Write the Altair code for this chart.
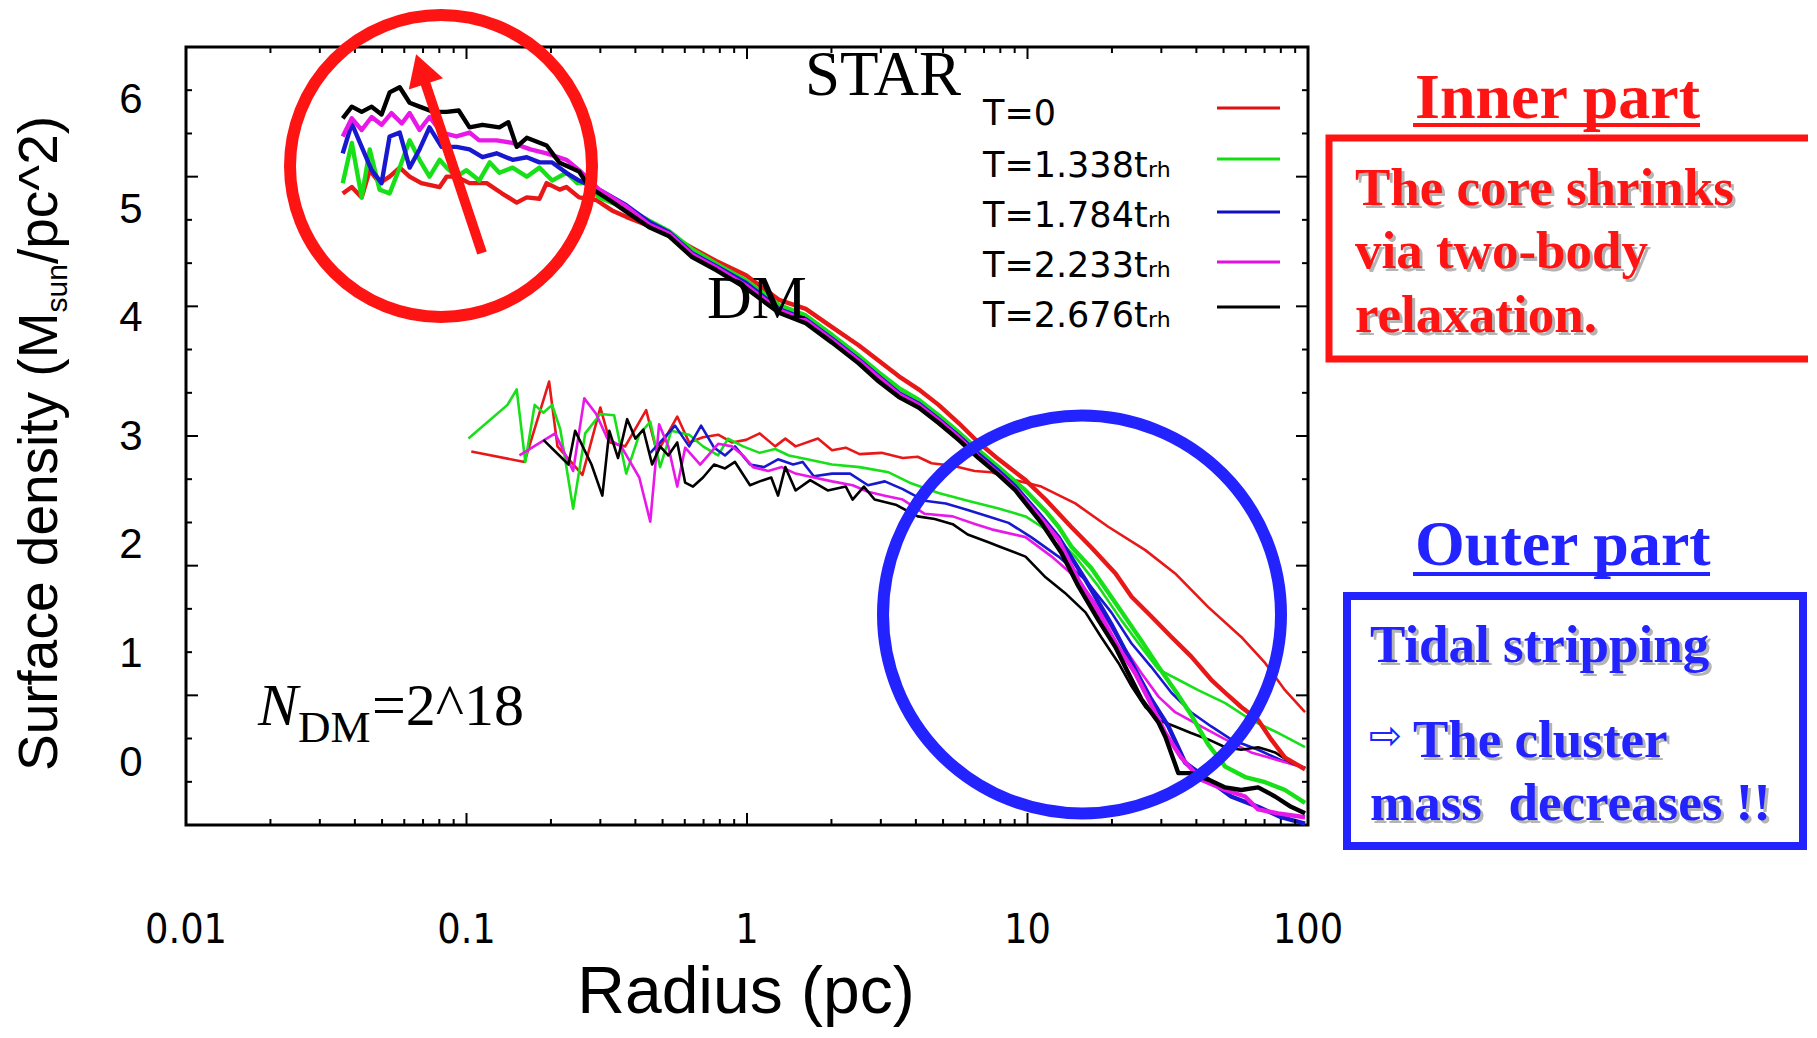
import altair as alt
import pandas as pd

# ---------------- data ----------------
SERIES = ["T=0", "T=1.338trh", "T=1.784trh", "T=2.233trh", "T=2.676trh"]
LINE_COLORS = ["#e81818", "#18e018", "#1818d0", "#e818e8", "#000000"]

# upper profiles (thick lines)
up_red_r = [0.0362, 0.039, 0.0423, 0.0452, 0.049, 0.0532, 0.0578, 0.0627, 0.069, 0.0802, 0.0849, 0.0921, 0.1025, 0.118, 0.134, 0.151, 0.164, 0.182, 0.193, 0.215, 0.227, 0.252, 0.29, 0.33, 0.371, 0.448, 0.528, 0.637, 0.776, 0.992, 1.3, 1.62, 2.01, 2.5, 2.95, 3.48, 4.09, 4.82, 5.68, 6.69, 7.89, 9.84, 11.6, 14.3, 16.9, 20.6, 23.5, 27.6, 32.6, 38.3, 45.2, 50.7, 57.8, 66.4, 73.9, 82.8, 97.6]
up_red_v = [4.87, 4.92, 4.84, 5.05, 4.95, 5.0, 5.07, 5.0, 4.95, 4.92, 5.0, 5.0, 4.95, 4.95, 4.87, 4.8, 4.84, 4.83, 4.95, 4.9, 4.92, 4.84, 4.82, 4.74, 4.69, 4.62, 4.55, 4.45, 4.35, 4.24, 4.05, 3.98, 3.84, 3.7, 3.58, 3.46, 3.36, 3.24, 3.1, 2.95, 2.82, 2.66, 2.51, 2.3, 2.14, 1.94, 1.76, 1.61, 1.45, 1.3, 1.12, 1.02, 0.91, 0.81, 0.66, 0.52, 0.43]

up_green_r = [0.0362, 0.039, 0.0423, 0.0452, 0.049, 0.0532, 0.0578, 0.0627, 0.068, 0.0738, 0.0802, 0.0849, 0.0921, 0.1, 0.111, 0.121, 0.131, 0.146, 0.164, 0.182, 0.202, 0.227, 0.248, 0.267, 0.297, 0.33, 0.371, 0.448, 0.528, 0.637, 0.776, 0.992, 1.3, 1.62, 2.01, 2.5, 2.95, 3.48, 4.09, 4.82, 5.68, 6.69, 7.89, 9.84, 11.6, 12.9, 14.3, 16.9, 21.1, 25.5, 29.3, 34.5, 38.3, 44.1, 50.7, 59.7, 70.3, 82.8, 97.6]
up_green_v = [4.95, 5.26, 4.84, 5.21, 4.9, 4.87, 5.07, 5.28, 5.13, 5.0, 5.13, 5.07, 5.0, 5.05, 4.97, 5.11, 5.03, 5.07, 5.0, 5.07, 4.97, 5.03, 4.95, 4.95, 4.84, 4.8, 4.76, 4.66, 4.58, 4.44, 4.33, 4.2, 4.01, 3.93, 3.78, 3.62, 3.49, 3.37, 3.28, 3.16, 3.03, 2.89, 2.76, 2.58, 2.42, 2.3, 2.15, 1.98, 1.68, 1.42, 1.22, 1.0, 0.85, 0.62, 0.45, 0.37, 0.33, 0.27, 0.17]

up_blue_r = [0.0362, 0.039, 0.0423, 0.0459, 0.0498, 0.0532, 0.0578, 0.0627, 0.068, 0.0738, 0.0815, 0.0921, 0.1025, 0.114, 0.128, 0.146, 0.164, 0.182, 0.202, 0.227, 0.252, 0.297, 0.371, 0.448, 0.528, 0.637, 0.776, 0.992, 1.3, 1.62, 2.01, 2.5, 2.95, 3.48, 4.09, 4.82, 5.68, 6.69, 7.89, 9.06, 11.2, 12.9, 16.1, 19.9, 24.2, 27.6, 31.8, 36.5, 44.1, 53.2, 66.4, 80.2, 97.6]
up_blue_v = [5.18, 5.41, 5.23, 5.05, 4.95, 5.31, 5.34, 5.07, 5.21, 5.38, 5.23, 5.23, 5.21, 5.15, 5.18, 5.13, 5.15, 5.11, 5.11, 5.03, 4.97, 4.9, 4.78, 4.65, 4.57, 4.41, 4.31, 4.18, 3.98, 3.9, 3.75, 3.59, 3.46, 3.33, 3.25, 3.13, 3.0, 2.86, 2.73, 2.61, 2.38, 2.22, 1.89, 1.55, 1.2, 0.97, 0.76, 0.48, 0.35, 0.22, 0.14, 0.06, 0.01]

up_magenta_r = [0.0362, 0.039, 0.0423, 0.0459, 0.0498, 0.054, 0.0588, 0.0627, 0.068, 0.0738, 0.0815, 0.0921, 0.1025, 0.111, 0.128, 0.146, 0.169, 0.193, 0.227, 0.252, 0.297, 0.371, 0.448, 0.528, 0.637, 0.776, 0.992, 1.3, 1.62, 2.01, 2.5, 2.95, 3.48, 4.09, 4.82, 5.68, 6.69, 7.89, 9.06, 11.2, 12.9, 15.2, 17.9, 21.1, 24.2, 27.0, 31.0, 35.3, 41.6, 50.7, 59.7, 66.4, 78.2, 97.6]
up_magenta_v = [5.31, 5.45, 5.36, 5.46, 5.4, 5.49, 5.41, 5.49, 5.36, 5.46, 5.34, 5.31, 5.34, 5.28, 5.28, 5.26, 5.21, 5.18, 5.13, 5.05, 4.9, 4.77, 4.63, 4.56, 4.4, 4.3, 4.16, 3.97, 3.89, 3.74, 3.58, 3.45, 3.32, 3.24, 3.12, 2.99, 2.84, 2.71, 2.59, 2.36, 2.2, 1.89, 1.64, 1.37, 1.17, 0.97, 0.71, 0.52, 0.35, 0.27, 0.22, 0.12, 0.09, 0.06]

up_black_r = [0.0362, 0.039, 0.0423, 0.0459, 0.0498, 0.0532, 0.0578, 0.0627, 0.068, 0.0763, 0.0849, 0.0938, 0.1025, 0.114, 0.131, 0.141, 0.151, 0.164, 0.193, 0.214, 0.252, 0.274, 0.323, 0.371, 0.448, 0.528, 0.637, 0.776, 0.992, 1.3, 1.62, 2.01, 2.5, 2.95, 3.48, 4.09, 4.82, 5.68, 6.69, 7.89, 9.06, 11.2, 13.2, 15.2, 17.9, 20.6, 22.9, 25.5, 29.3, 31.0, 34.5, 38.3, 44.1, 50.7, 57.8, 66.4, 76.3, 87.0, 97.6]
up_black_v = [5.45, 5.54, 5.5, 5.54, 5.48, 5.65, 5.69, 5.57, 5.54, 5.5, 5.5, 5.51, 5.38, 5.4, 5.38, 5.42, 5.23, 5.3, 5.24, 5.11, 5.04, 4.92, 4.82, 4.73, 4.61, 4.54, 4.38, 4.28, 4.14, 3.95, 3.87, 3.72, 3.56, 3.42, 3.3, 3.22, 3.1, 2.97, 2.83, 2.7, 2.58, 2.33, 2.1, 1.84, 1.58, 1.37, 1.17, 0.97, 0.79, 0.68, 0.4, 0.4, 0.35, 0.29, 0.27, 0.29, 0.22, 0.14, 0.09]

# lower profiles (thin lines)
lo_red_r = [0.104, 0.161, 0.197, 0.211, 0.259, 0.3, 0.325, 0.368, 0.437, 0.478, 0.564, 0.622, 0.697, 0.789, 0.884, 0.992, 1.11, 1.26, 1.37, 1.49, 1.79, 2.01, 2.25, 2.52, 3.02, 3.59, 4.06, 4.55, 5.41, 6.48, 7.45, 9.0, 11.2, 14.8, 19.4, 26.3, 33.6, 44.1, 57.8, 70.3, 82.8, 97.6]
lo_red_v = [2.88, 2.8, 3.42, 2.92, 2.7, 3.22, 2.95, 2.92, 3.2, 2.87, 3.15, 2.95, 2.99, 3.01, 2.95, 2.97, 3.02, 2.92, 2.98, 2.92, 2.98, 2.89, 2.91, 2.86, 2.87, 2.83, 2.84, 2.79, 2.77, 2.73, 2.72, 2.66, 2.61, 2.48, 2.3, 2.12, 1.94, 1.68, 1.45, 1.25, 1.04, 0.87]

lo_green_r = [0.1016, 0.14, 0.151, 0.162, 0.175, 0.188, 0.202, 0.216, 0.24, 0.265, 0.3, 0.336, 0.371, 0.413, 0.452, 0.49, 0.537, 0.622, 0.697, 0.789, 0.856, 0.968, 1.11, 1.26, 1.41, 1.64, 2.01, 2.52, 3.2, 3.8, 4.82, 6.12, 7.89, 9.84, 12.2, 14.8, 17.9, 21.6, 25.5, 29.3, 34.5, 40.6, 50.7, 62.7, 78.2, 97.6]
lo_green_v = [2.98, 3.24, 3.36, 2.8, 3.24, 3.18, 3.24, 3.05, 2.44, 3.02, 3.17, 3.16, 2.71, 3.01, 3.11, 2.76, 3.04, 3.01, 2.92, 2.85, 2.98, 2.92, 2.87, 2.9, 2.85, 2.82, 2.78, 2.76, 2.72, 2.64, 2.56, 2.5, 2.44, 2.38, 2.25, 2.07, 1.84, 1.58, 1.37, 1.2, 1.12, 1.04, 0.94, 0.81, 0.71, 0.6]

lo_blue_r = [0.452, 0.49, 0.554, 0.622, 0.686, 0.763, 0.835, 0.906, 1.025, 1.15, 1.29, 1.46, 1.58, 1.73, 2.01, 2.33, 2.7, 3.1, 3.59, 4.3, 5.11, 6.12, 7.26, 8.56, 10.3, 12.9, 16.1, 19.9, 23.5, 27.6, 32.6, 38.3, 45.2, 53.2, 66.4, 80.2, 97.6]
lo_blue_v = [2.87, 2.95, 3.08, 2.92, 3.08, 2.91, 2.85, 2.92, 2.78, 2.76, 2.82, 2.78, 2.8, 2.69, 2.71, 2.71, 2.62, 2.65, 2.59, 2.5, 2.48, 2.43, 2.38, 2.33, 2.22, 2.07, 1.89, 1.64, 1.4, 1.22, 1.02, 0.87, 0.76, 0.66, 0.58, 0.5, 0.44]

lo_magenta_r = [0.1544, 0.207, 0.24, 0.263, 0.29, 0.318, 0.356, 0.413, 0.452, 0.486, 0.524, 0.564, 0.602, 0.681, 0.789, 0.884, 0.968, 1.05, 1.19, 1.33, 1.49, 1.73, 2.01, 2.38, 2.7, 3.1, 3.59, 4.3, 5.41, 6.53, 7.45, 9.84, 12.2, 15.2, 17.9, 21.6, 25.5, 29.3, 33.6, 41.6, 50.7, 62.7, 78.2, 97.6]
lo_magenta_v = [2.85, 3.02, 2.73, 3.29, 3.17, 2.98, 2.92, 2.68, 2.34, 3.09, 2.92, 2.61, 2.91, 2.78, 2.94, 2.92, 2.85, 2.76, 2.73, 2.76, 2.71, 2.68, 2.65, 2.62, 2.57, 2.54, 2.51, 2.4, 2.38, 2.32, 2.28, 2.22, 2.07, 1.89, 1.68, 1.4, 1.17, 0.99, 0.87, 0.76, 0.66, 0.56, 0.5, 0.44]

lo_black_r = [0.188, 0.231, 0.244, 0.279, 0.305, 0.323, 0.347, 0.374, 0.4, 0.427, 0.459, 0.49, 0.524, 0.564, 0.602, 0.642, 0.697, 0.763, 0.835, 0.906, 1.025, 1.11, 1.22, 1.29, 1.37, 1.49, 1.68, 1.94, 2.25, 2.38, 2.61, 2.85, 3.39, 4.06, 4.67, 5.41, 6.12, 7.26, 7.89, 9.84, 11.6, 13.6, 16.1, 18.3, 21.1, 23.5, 26.3, 29.3, 33.6, 38.3, 44.1, 50.7, 57.8, 66.4, 76.3, 87.0, 97.6]
lo_black_v = [2.97, 2.78, 3.04, 2.78, 2.54, 3.04, 2.83, 3.13, 2.98, 3.05, 2.78, 2.92, 2.85, 2.95, 2.64, 2.61, 2.68, 2.78, 2.75, 2.8, 2.62, 2.65, 2.68, 2.54, 2.76, 2.58, 2.66, 2.58, 2.61, 2.51, 2.61, 2.51, 2.47, 2.38, 2.36, 2.32, 2.24, 2.18, 2.15, 2.07, 1.91, 1.79, 1.64, 1.45, 1.25, 1.07, 0.91, 0.81, 0.76, 0.71, 0.66, 0.6, 0.58, 0.6, 0.56, 0.48, 0.44]

# axis ticks and labels
x_major = [0.01, 0.1, 1, 10, 100]
x_minor = [0.02, 0.03, 0.04, 0.05, 0.06, 0.07, 0.08, 0.09,
           0.2, 0.3, 0.4, 0.5, 0.6, 0.7, 0.8, 0.9,
           2, 3, 4, 5, 6, 7, 8, 9,
           20, 30, 40, 50, 60, 70, 80, 90]
x_labels = ["0.01", "0.1", "1", "10", "100"]
y_major = [1, 2, 3, 4, 5]
y_minor = [0.333, 0.667, 1.333, 1.667, 2.333, 2.667, 3.333, 3.667, 4.333, 4.667, 5.333, 5.667]
y_labels = ["6", "5", "4", "3", "2", "1", "0"]
y_label_pos = [5.59, 4.74, 3.91, 2.99, 2.16, 1.32, 0.48]

# ---------------- build ----------------
W, H = 1122, 778
XS = alt.Scale(type="log", domain=[0.01, 100], nice=False)
YS = alt.Scale(domain=[0, 6], nice=False, zero=False)
ONE = pd.DataFrame({"k": [0]})

def frame(rs, vs, name):
    return pd.DataFrame({"r": rs, "v": vs, "series": name})

upper = pd.concat([
    frame(up_red_r, up_red_v, SERIES[0]),
    frame(up_green_r, up_green_v, SERIES[1]),
    frame(up_blue_r, up_blue_v, SERIES[2]),
    frame(up_magenta_r, up_magenta_v, SERIES[3]),
    frame(up_black_r, up_black_v, SERIES[4]),
], ignore_index=True)
lower = pd.concat([
    frame(lo_red_r, lo_red_v, SERIES[0]),
    frame(lo_green_r, lo_green_v, SERIES[1]),
    frame(lo_blue_r, lo_blue_v, SERIES[2]),
    frame(lo_magenta_r, lo_magenta_v, SERIES[3]),
    frame(lo_black_r, lo_black_v, SERIES[4]),
], ignore_index=True)

color = alt.Color("series:N", scale=alt.Scale(domain=SERIES, range=LINE_COLORS), legend=None)
XE = alt.X("r:Q", scale=XS, axis=None)
YE = alt.Y("v:Q", scale=YS, axis=None)

lines_lower = alt.Chart(lower).mark_line(strokeWidth=2.6, strokeJoin="round").encode(x=XE, y=YE, color=color)
lines_upper = alt.Chart(upper).mark_line(strokeWidth=4.4, strokeJoin="round").encode(x=XE, y=YE, color=color)

def xticks(vals, y0, y1, w=2):
    return alt.Chart(pd.DataFrame({"r": vals})).mark_rule(color="black", strokeWidth=w).encode(
        x=XE, y=alt.value(y0), y2=alt.value(y1))

def yticks(vals, x0, x1, w=2):
    return alt.Chart(pd.DataFrame({"v": vals})).mark_rule(color="black", strokeWidth=w).encode(
        y=YE, x=alt.value(x0), x2=alt.value(x1))

ticks = [
    xticks(x_major, H, H - 12), xticks(x_minor, H, H - 6),
    xticks(x_major, 0, 12), xticks(x_minor, 0, 6),
    yticks(y_major, 0, 12), yticks(y_minor, 0, 6),
    yticks(y_major, W, W - 12), yticks(y_minor, W, W - 6),
]

xlab = alt.Chart(pd.DataFrame({"r": x_major, "t": x_labels})).mark_text(
    font="Liberation Sans Narrow, DejaVu Sans Condensed, Liberation Sans", fontSize=41,
    align="center", baseline="alphabetic", color="black").encode(x=XE, y=alt.value(896), text="t:N")
ylab = alt.Chart(pd.DataFrame({"v": y_label_pos, "t": y_labels})).mark_text(
    font="Liberation Sans", fontSize=42, align="center", baseline="middle", color="black").encode(
    y=YE, x=alt.value(-55), text="t:N")

def txt(s, x, y, size, color="black", font="Liberation Sans", weight="normal", style="normal",
        align="left", baseline="alphabetic", angle=0):
    return alt.Chart(ONE).mark_text(text=s, fontSize=size, font=font, fontWeight=weight, fontStyle=style,
                                    color=color, align=align, baseline=baseline, angle=angle).encode(
        x=alt.value(x), y=alt.value(y))

def shadow_txt(s, x, y, size, color):
    return [txt(s, x + 3, y + 3, size, color="#b4b4b4", font="Liberation Serif", weight="bold"),
            txt(s, x, y, size, color=color, font="Liberation Serif", weight="bold")]

def rule(x0, y0, x1, y1, color, w):
    return alt.Chart(ONE).mark_rule(color=color, strokeWidth=w).encode(
        x=alt.value(x0), y=alt.value(y0), x2=alt.value(x1), y2=alt.value(y1))

def box(x0, y0, x1, y1, color, w):
    return alt.Chart(ONE).mark_rect(fillOpacity=0, stroke=color, strokeWidth=w).encode(
        x=alt.value(x0), y=alt.value(y0), x2=alt.value(x1), y2=alt.value(y1))

def ring(cx, cy, d, color, w):
    return alt.Chart(ONE).mark_point(shape="circle", size=d * d, filled=False, color=color,
                                     strokeWidth=w, opacity=1).encode(x=alt.value(cx), y=alt.value(cy))

RED = "#ff1414"
BLUE = "#2323ff"

annot = []
# axis titles
annot.append(txt("Radius (pc)", 560, 966, 66, align="center"))
annot.append(txt("Surface density (M", -129, 724, 55, angle=270))
annot.append(txt("sun", -119, 265.5, 30, angle=270))
annot.append(txt("/pc^2)", -129, 217, 55, angle=270))

# in-plot labels
annot.append(txt("STAR", 697, 48, 63, font="Liberation Serif", align="center"))
annot.append(txt("DM", 571, 271, 62, font="Liberation Serif", align="center"))
annot.append(txt("N", 72, 678, 60, font="Liberation Serif", style="italic"))
annot.append(txt("DM", 112, 695, 45, font="Liberation Serif"))
annot.append(txt("=2^18", 186, 678, 60, font="Liberation Serif"))

# legend
leg_base = [78, 130, 180, 230, 280]
leg_line = [61, 112, 165, 215, 260]
leg_main = ["T=0", "T=1.338t", "T=1.784t", "T=2.233t", "T=2.676t"]
LEG_COLORS = ["#e01010", "#10e010", "#1010c0", "#e010e0", "#000000"]
for i in range(5):
    annot.append(txt(leg_main[i], 797, leg_base[i], 35, font="DejaVu Sans"))
    if i > 0:
        annot.append(txt("rh", 962, leg_base[i], 22, font="DejaVu Sans"))
    annot.append(rule(1031, leg_line[i], 1094, leg_line[i], LEG_COLORS[i], 3))

# red circle and arrow
annot.append(ring(255, 119, 302, RED, 12))
annot.append(rule(296, 206, 236, 26, RED, 10))
annot.append(alt.Chart(ONE).mark_point(shape="triangle-up", size=1300, filled=True, color=RED,
                                       opacity=1, angle=341.7).encode(x=alt.value(235), y=alt.value(22)))
# blue circle
annot.append(ring(896, 567.5, 398, BLUE, 12))

# right annotations
annot.append(txt("Inner part", 1229, 71, 64, color=RED, font="Liberation Serif", weight="bold"))
annot.append(rule(1227, 78, 1514, 78, RED, 4))
annot.append(box(1143, 91, 1660, 312, RED, 7))
annot += shadow_txt("The core shrinks", 1169, 158, 53, RED)
annot += shadow_txt("via two-body", 1169, 221, 53, RED)
annot += shadow_txt("relaxation.", 1169, 285, 53, RED)

annot.append(txt("Outer part", 1229, 518, 64, color=BLUE, font="Liberation Serif", weight="bold"))
annot.append(rule(1227, 527, 1524, 527, BLUE, 4))
annot.append(box(1161, 549, 1617, 799, BLUE, 8))
annot += shadow_txt("Tidal stripping", 1184, 615, 53, BLUE)
annot.append(txt("\u21e8", 1183, 702, 40, color=BLUE, font="DejaVu Sans"))
annot += shadow_txt("The cluster", 1227, 710, 53, BLUE)
annot += shadow_txt("mass\u00a0 decreases !!", 1184, 773, 53, BLUE)

chart = alt.layer(lines_lower, lines_upper, *ticks, xlab, ylab, *annot).properties(
    width=W, height=H,
    padding={"left": 178, "top": 39, "right": 500, "bottom": 205},
    autosize=alt.AutoSizeParams(type="none"),
).configure(background="white").configure_view(stroke="black", strokeWidth=3)

chart.save("out.html", embed_options={"renderer": "svg", "actions": False})
